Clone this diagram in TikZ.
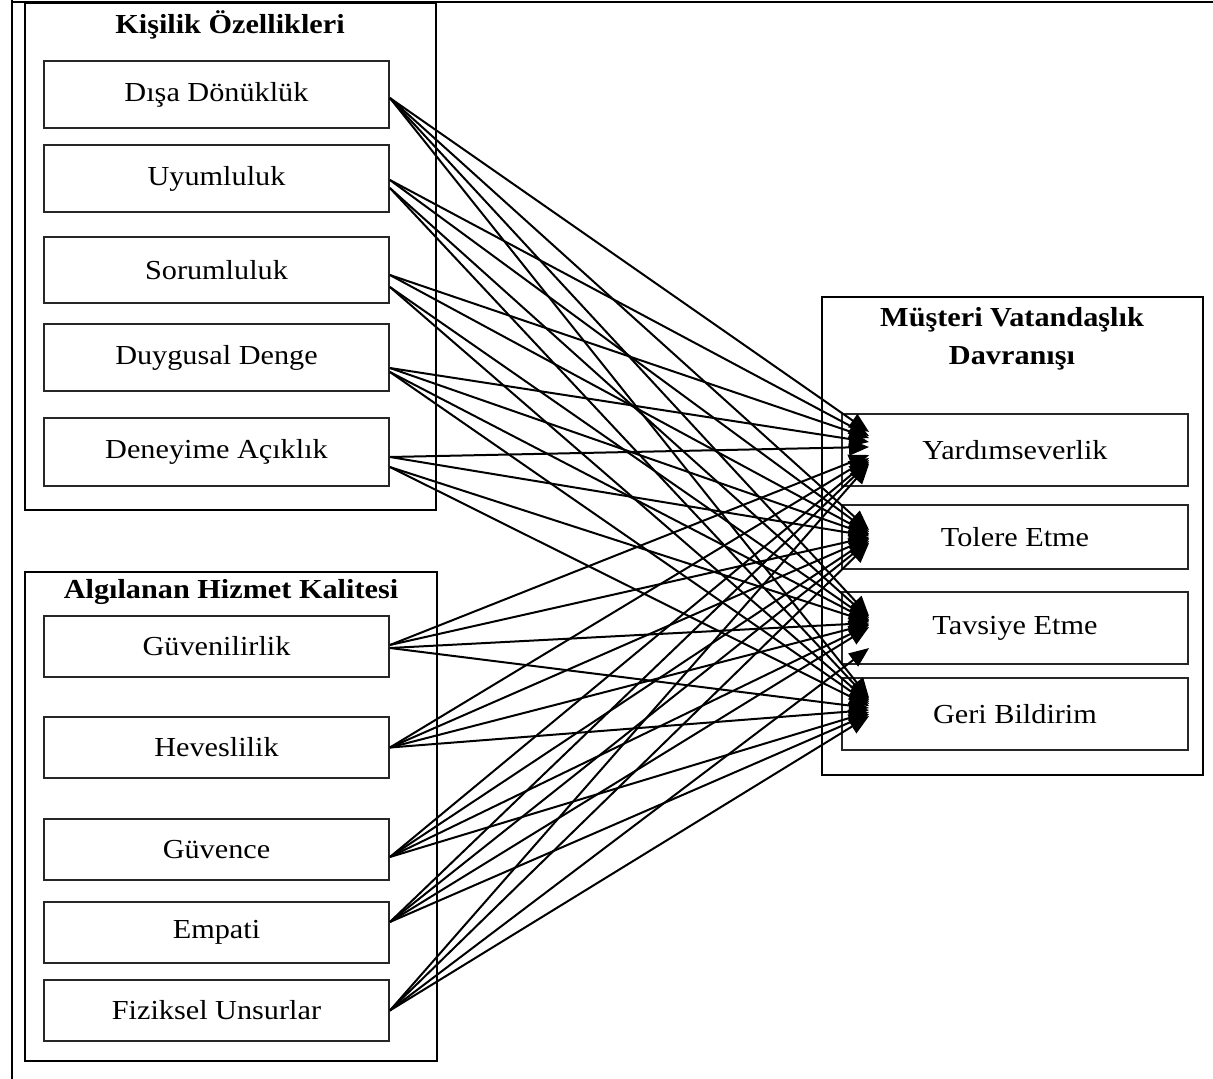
\documentclass[tikz,border=0pt]{standalone}
\usepackage{fontspec}
\setmainfont{Liberation Serif}[FakeStretch=1.1]
\usetikzlibrary{arrows.meta}
\begin{document}
\begin{tikzpicture}[x=1pt,y=-1pt,
  txt/.style={font=\fontsize{27.5}{32}\selectfont, inner sep=0pt},
  ttl/.style={txt, font=\fontsize{27.5}{38}\selectfont\bfseries, align=center},
  cbox/.style={txt, draw=black!85, line width=1.8pt, rectangle, minimum width=345pt},
  grp/.style={draw, line width=2.4pt, rectangle, inner sep=0pt},
  conn/.style={line width=2pt, -{Triangle[length=20pt,width=16pt]}}]
\useasboundingbox (0,0) rectangle (1213,1079);
% frame lines
\draw[line width=2.6pt] (12,0) -- (12,1079);
\draw[line width=2.6pt] (12,2) -- (1213,2);
% group boxes
\node[grp, minimum width=411pt, minimum height=507pt] (g1) at (230.5,256.5) {};
\node[grp, minimum width=412pt, minimum height=489pt] (g2) at (231,816.5) {};
\node[grp, minimum width=381pt, minimum height=478pt] (g3) at (1012.5,536) {};
\node[ttl] (g1t) at (230,25) {Kişilik Özellikleri};
\node[ttl] (g2t) at (231,592) {Algılanan Hizmet Kalitesi};
\node[ttl] (g3t) at (1012,339) {Müşteri Vatandaşlık\\Davranışı};
% source boxes
\node[cbox, minimum height=67pt] (s1) at (216.5,94.5) {Dışa Dönüklük};
\node[cbox, minimum height=67pt] (s2) at (216.5,178.5) {Uyumluluk};
\node[cbox, minimum height=66pt] (s3) at (216.5,270) {Sorumluluk};
\node[cbox, minimum height=67pt] (s4) at (216.5,357.5) {Duygusal Denge};
\node[cbox, minimum height=68pt] (s5) at (216.5,452) {Deneyime Açıklık};
\node[cbox, minimum height=61pt] (a1) at (216.5,646.5) {Güvenilirlik};
\node[cbox, minimum height=61pt] (a2) at (216.5,747.5) {Heveslilik};
\node[cbox, minimum height=61pt] (a3) at (216.5,849.5) {Güvence};
\node[cbox, minimum height=61pt] (a4) at (216.5,932.5) {Empati};
\node[cbox, minimum height=61pt] (a5) at (216.5,1010.5) {Fiziksel Unsurlar};
% target boxes
\node[cbox, minimum width=346pt, minimum height=72pt] (t1) at (1015,450) {Yardımseverlik};
\node[cbox, minimum width=346pt, minimum height=64pt] (t2) at (1015,537) {Tolere Etme};
\node[cbox, minimum width=346pt, minimum height=72pt] (t3) at (1015,628) {Tavsiye Etme};
\node[cbox, minimum width=346pt, minimum height=72pt] (t4) at (1015,714) {Geri Bildirim};
% connectors
\foreach \s/\sy/\t/\ty in {
  s1/-3.5/t1/18, s1/-3.5/t2/7, s1/-3.5/t3/12, s1/-3.5/t4/16,
  s2/-1.5/t1/14, s2/-1.5/t2/5, s2/-9.5/t3/10, s2/-9.5/t4/14,
  s3/-5/t1/12, s3/-5/t2/3, s3/-17/t3/8, s3/-17/t4/12,
  s4/-10.5/t1/8, s4/-10.5/t2/2, s4/-14.5/t3/7, s4/-14.5/t4/10,
  s5/-5/t1/3, s5/-5/t2/1, s5/-15/t3/6, s5/-15/t4/8,
  a1/1.5/t1/-5, a1/1.5/t2/0, a1/-1.5/t3/5, a1/-1.5/t4/6,
  a2/0/t1/-8, a2/0/t2/-1, a2/0/t3/4, a2/0/t4/4,
  a3/-7.5/t1/-10, a3/-7.5/t2/-2, a3/-7.5/t3/3, a3/-7.5/t4/2,
  a4/10.5/t1/-12, a4/10.5/t2/-4, a4/10.5/t3/1, a4/10.5/t4/0,
  a5/0/t1/-14, a5/0/t2/-6, a5/0/t3/-20, a5/0/t4/-2}
  \draw[conn] ([yshift=\sy pt]\s.east) -- ([xshift=28pt,yshift=\ty pt]\t.west);
\end{tikzpicture}
\end{document}
